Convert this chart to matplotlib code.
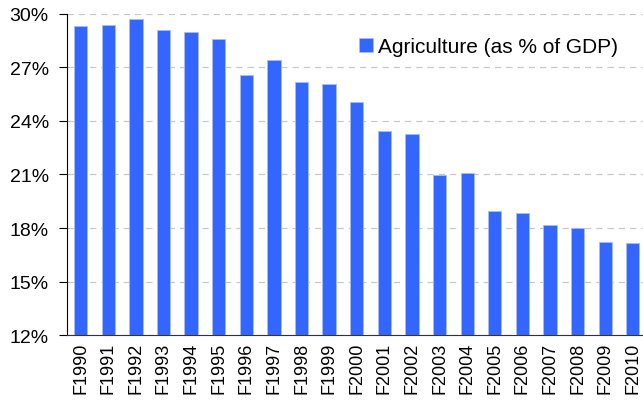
import numpy as np
import matplotlib.pyplot as plt
from matplotlib.ticker import FuncFormatter

plt.rcParams['font.family'] = ['Liberation Sans', 'DejaVu Sans']

years = ["F1990", "F1991", "F1992", "F1993", "F1994", "F1995", "F1996",
         "F1997", "F1998", "F1999", "F2000", "F2001", "F2002", "F2003",
         "F2004", "F2005", "F2006", "F2007", "F2008", "F2009", "F2010"]
agri = [29.3, 29.35, 29.72, 29.07, 29.01, 28.6, 26.55,
        27.44, 26.19, 26.08, 25.05, 23.41, 23.26, 20.95,
        21.06, 18.93, 18.85, 18.18, 18.01, 17.23, 17.17]
yticks = [12, 15, 18, 21, 24, 27, 30]

fig = plt.figure(figsize=(6.43, 4.02), dpi=100)
ax = fig.add_axes([0.104, 0.164, 0.896, 0.799])

x = np.arange(len(years))
ax.bar(x, agri, width=0.48, color="#3366FF", edgecolor="#A9BCF5",
       linewidth=0.6, label="Agriculture (as % of GDP)", zorder=3)

ax.set_ylim(12, 30)
ax.set_xlim(-0.5, 20.37)
ax.set_yticks(yticks)
ax.yaxis.set_major_formatter(FuncFormatter(lambda v, p: f"{v:.0f}%"))
ax.set_xticks(x)
ax.set_xticklabels(years, rotation=90)
ax.tick_params(axis='x', length=0, labelsize=13, pad=5)
ax.tick_params(axis='y', length=6, labelsize=14, width=0.8, pad=7)

ax.grid(axis='y', color="#C8C8C8", linestyle=(0, (5, 4)), linewidth=0.9, zorder=0)
for s in ["top", "right"]:
    ax.spines[s].set_visible(False)
ax.spines["left"].set_color("black")
ax.spines["bottom"].set_color("#333333")

ax.legend(loc="upper right", bbox_to_anchor=(0.99, 0.985), frameon=False,
          fontsize=15, handlelength=0.7, handleheight=0.7, handletextpad=0.25)

fig.savefig("out.png", dpi=100)
